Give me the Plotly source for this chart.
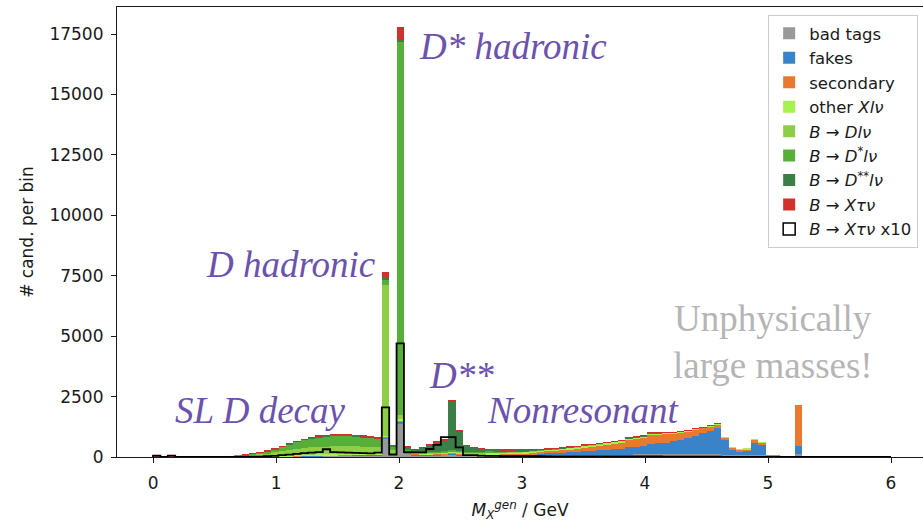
import numpy as np
import plotly.graph_objects as go

# ---- binning: 100 bins from 0 to 6 GeV ----
bin_edges = np.linspace(0.0, 6.0, 101)
bin_centers = 0.5 * (bin_edges[:-1] + bin_edges[1:])
bin_width = 0.06

z9 = [0] * 9
z12 = [0] * 12

# components per bin (stack order bottom -> top)
bad_tags = z9 + [0, 0, 2, 3, 5, 8, 10, 14, 18, 22, 26, 30, 34, 38, 42, 46, 50, 54, 58, 62, 66, 72,
                 750, 150, 1350, 150, 80, 70, 75, 80, 90, 100, 80,
                 60, 55, 55, 50, 50, 50, 50, 50, 55, 55, 60,
                 60, 65, 65, 70, 70, 75, 75, 80, 85, 90, 95, 100, 105, 110, 115, 120, 125,
                 130, 130, 125, 120, 115, 110, 105, 100, 85, 70, 70, 80, 70, 10, 0, 0, 0, 120] + z12
fakes = z9 + [0, 0, 0, 2, 3, 5, 6, 8, 10, 12, 14, 16, 18, 20, 22, 24, 26, 28, 30, 32, 34, 36,
              50, 20, 120, 30, 25, 25, 25, 25, 30, 40, 35,
              30, 30, 30, 35, 35, 40, 45, 50, 55, 65, 80,
              95, 100, 110, 130, 145, 165, 180, 195, 215, 235, 250, 295, 310, 335, 410, 440, 470,
              520, 580, 650, 760, 870, 975, 1090, 620, 225, 160, 200, 520, 440, 10, 10, 0, 0, 350] + z12
secondary = z9 + [0, 0, 0, 0, 1, 2, 3, 4, 5, 6, 7, 8, 9, 10, 10, 10, 10, 10, 10, 10, 10, 10,
                  30, 10, 60, 20, 20, 20, 20, 20, 25, 30, 30,
                  20, 25, 30, 35, 35, 40, 45, 50, 55, 65, 80,
                  95, 105, 115, 130, 145, 170, 190, 210, 230, 250, 270, 320, 330, 350, 390, 380, 370,
                  330, 300, 280, 250, 220, 185, 150, 70, 70, 60, 60, 120, 90, 50, 40, 10, 0, 1680] + z12
other_xlnu = z9 + [8, 14, 18, 22, 25, 28, 30, 32, 34, 35, 36, 36, 36, 36, 36, 36, 35, 34, 33, 32, 30, 28,
                   40, 20, 40, 30, 35, 35, 35, 35, 40, 40, 45,
                   40, 45, 50, 55, 55, 55, 55, 55, 55, 55, 50,
                   50, 50, 50, 50, 50, 50, 50, 50, 50, 50, 50, 50, 48, 46, 44, 42, 40,
                   40, 38, 36, 34, 30, 26, 22, 20, 20, 10, 10, 20, 10, 0, 0, 0, 0, 0] + z12
b_dlnu = z9 + [10, 20, 30, 45, 65, 85, 115, 150, 185, 220, 250, 280, 300, 315, 320, 325, 325, 320, 310, 295, 280, 265,
               6245, 80, 150, 30, 20, 20, 20, 20, 20, 25, 20,
               20, 20, 20, 20, 15, 15, 15, 15, 10, 10, 10,
               10, 10, 8, 8, 8, 8, 6, 6, 6, 5, 5, 5, 4, 4, 3, 3, 2,
               2, 2, 2, 1, 1, 1, 1, 0, 0, 0, 0, 0, 0, 0, 0, 0, 0, 0] + z12
b_dstarlnu = z9 + [2, 6, 10, 17, 30, 49, 79, 121, 181, 235, 290, 336, 373, 405, 420, 439, 445, 436, 412, 395, 369, 337,
                   200, 150, 15440, 60, 35, 35, 35, 40, 45, 50, 50,
                   50, 45, 40, 35, 30, 25, 20, 20, 15, 15, 10,
                   10, 10, 10, 10, 8, 8, 8, 6, 6, 5, 5, 5, 4, 4, 3, 3, 2,
                   2, 2, 2, 1, 1, 1, 1, 0, 0, 0, 0, 0, 0, 0, 0, 0, 0, 0] + z12
b_dsslnu = z9 + [0, 0, 0, 0, 0, 2, 4, 6, 9, 10, 14, 18, 22, 26, 28, 30, 30, 30, 30, 28, 26, 24,
                 130, 30, 140, 80, 96, 176, 287, 360, 413, 1993, 790,
                 242, 172, 129, 95, 75, 61, 56, 56, 51, 42, 37,
                 18, 18, 20, 20, 22, 22, 19, 21, 26, 23, 23, 23, 27, 29, 33, 20, 10,
                 5, 7, 4, 3, 2, 1, 0, 0, 0, 0, 0, 0, 0, 0, 0, 0, 0, 0] + z12
b_xtaunu = [6, 0, 6, 0, 0, 0, 0, 0, 0] + [0, 0, 0, 1, 1, 1, 3, 5, 8, 10, 13, 16, 18, 20, 32, 20, 19, 18, 17, 16, 15, 18,
                                          205, 10, 470, 20, 19, 19, 33, 50, 82, 82, 40,
                                          8, 8, 6, 5, 5, 4, 4, 4, 4, 3, 3,
                                          2, 2, 2, 2, 2, 2, 2, 2, 2, 2, 2, 2, 2, 2, 2, 2, 1,
                                          1, 1, 1, 1, 1, 1, 1, 0, 0, 0, 0, 0, 0, 0, 0, 0, 0, 0] + z12
tau_scale = 10

names = ["bad tags", "fakes", "secondary", "other <i>Xlν</i>", "<i>B</i> → <i>Dlν</i>",
         "<i>B</i> → <i>D</i><sup>*</sup><i>lν</i>", "<i>B</i> → <i>D</i><sup>**</sup><i>lν</i>",
         "<i>B</i> → <i>Xτν</i>"]
outline_name = "<i>B</i> → <i>Xτν</i> x10"
colors = ["#999999", "#3b83c8", "#e8792f", "#a6f24f", "#8ecd48", "#57af3a", "#3b7e48", "#d2302a"]
series = [bad_tags, fakes, secondary, other_xlnu, b_dlnu, b_dstarlnu, b_dsslnu, b_xtaunu]

fig = go.Figure()
for nm, col, vals in zip(names, colors, series):
    fig.add_trace(go.Bar(x=bin_centers, y=vals, width=bin_width, name=nm,
                         marker=dict(color=col, line=dict(width=0))))

# step outline of tau x10
outline = np.array(b_xtaunu, dtype=float) * tau_scale
step_x = np.concatenate([[bin_edges[0]], bin_edges])
step_y = np.concatenate([[0.0], outline, [0.0]])
fig.add_trace(go.Scatter(x=step_x, y=step_y, mode="lines", line=dict(color="black", width=1.8, shape="hv"),
                         showlegend=False, hoverinfo="skip"))
# legend entry for the outline
fig.add_trace(go.Bar(x=[None], y=[None], name=outline_name,
                     marker=dict(color="rgba(255,255,255,0)", line=dict(color="black", width=1.5))))

purple = "#6b52ad"
serif = "Liberation Serif"
notes = [
    ("<i>D* hadronic</i>", 2.927, 16975, purple),
    ("<i>D hadronic</i>", 1.122, 7955, purple),
    ("<i>SL D decay</i>", 0.870, 1924, purple),
    ("<i>D**</i>", 2.504, 3364, purple),
    ("<i>Nonresonant</i>", 3.496, 1924, purple),
    ("Unphysically", 5.041, 5750, "#b5b5b5"),
    ("large masses!", 5.041, 3770, "#b5b5b5"),
]
for txt, x, y, c in notes:
    fig.add_annotation(x=x, y=y, text=txt, showarrow=False, xanchor="center", yanchor="middle",
                       font=dict(family=serif, size=37, color=c))

tickfont = dict(family="DejaVu Sans", size=17, color="#1a1a1a")
fig.update_layout(
    width=923, height=524,
    margin=dict(l=117, r=0, t=7, b=67),
    paper_bgcolor="white", plot_bgcolor="white",
    barmode="stack", bargap=0,
    showlegend=True,
    legend=dict(x=0.994, y=0.982, xanchor="right", yanchor="top", traceorder="normal",
                bgcolor="rgba(255,255,255,0.85)", bordercolor="#cccccc", borderwidth=1,
                font=dict(family="DejaVu Sans", size=16.5, color="#1a1a1a")),
    xaxis=dict(range=[-0.293, 6.26], tickmode="linear", tick0=0, dtick=1, ticks="outside", ticklen=5,
               tickcolor="#1a1a1a", showline=True, linecolor="#1a1a1a", linewidth=1.2, mirror=True,
               showgrid=False, zeroline=False, tickfont=tickfont, ticklabelstandoff=5,
               title=dict(text="<i>M</i><sub><i>X</i></sub><sup><i>gen</i></sup> / GeV", font=tickfont, standoff=12)),
    yaxis=dict(range=[0, 18617], tickmode="linear", tick0=0, dtick=2500, tickformat="d", ticks="outside",
               ticklen=5, tickcolor="#1a1a1a", showline=True, linecolor="#1a1a1a", linewidth=1.2,
               showgrid=False, zeroline=False, tickfont=tickfont, ticklabelstandoff=4,
               title=dict(text="# cand. per bin", font=tickfont, standoff=11)),
)

fig.write_html("out.html")
